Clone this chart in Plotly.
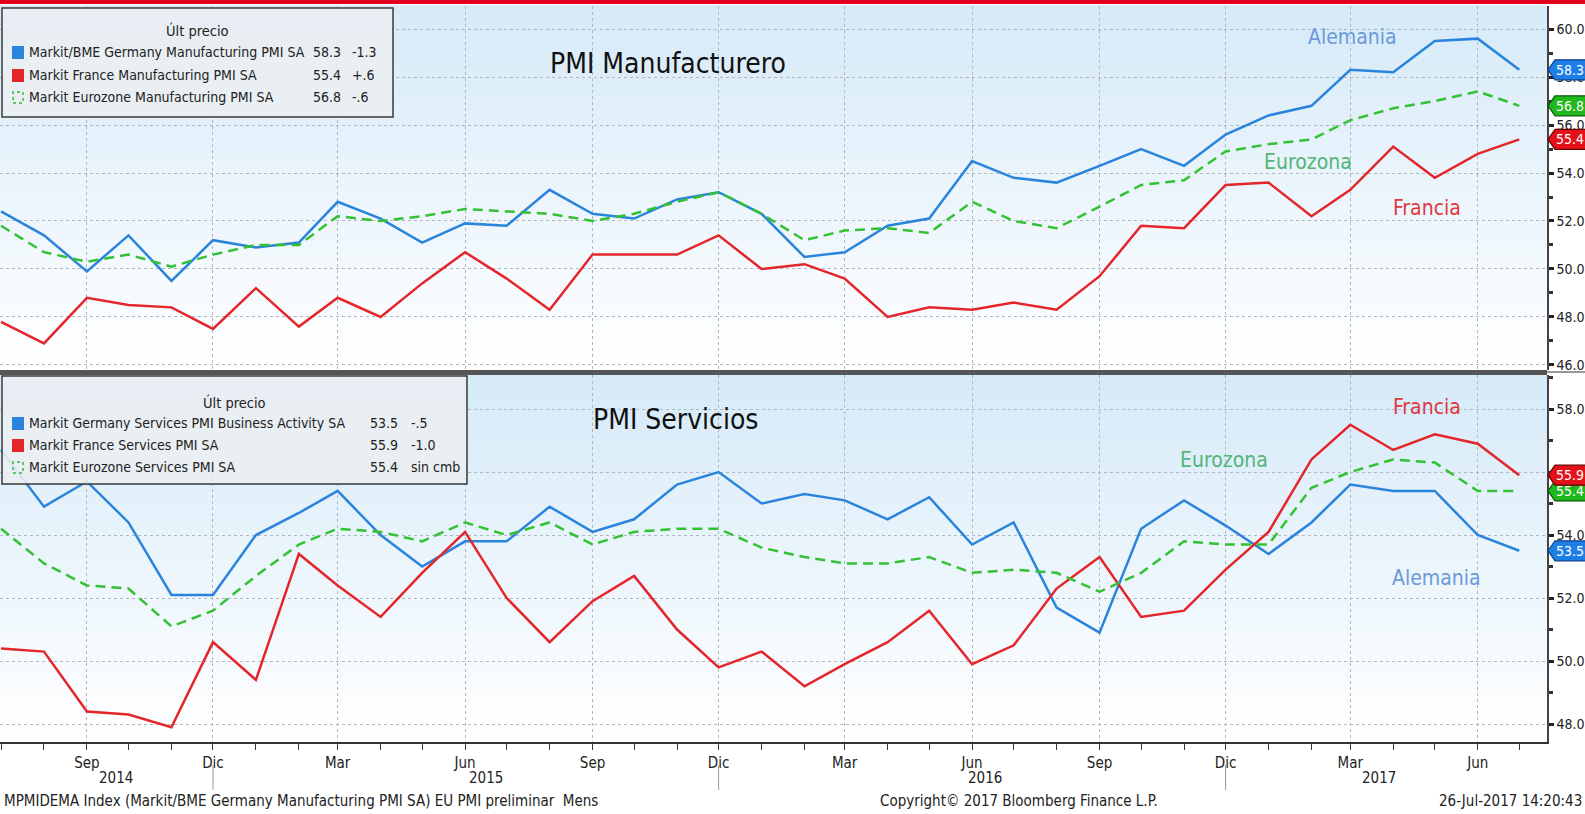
import plotly.graph_objects as go

# ---------------- data ----------------
months = ["2014-07-01", "2014-08-01", "2014-09-01", "2014-10-01", "2014-11-01", "2014-12-01",
          "2015-01-01", "2015-02-01", "2015-03-01", "2015-04-01", "2015-05-01", "2015-06-01",
          "2015-07-01", "2015-08-01", "2015-09-01", "2015-10-01", "2015-11-01", "2015-12-01",
          "2016-01-01", "2016-02-01", "2016-03-01", "2016-04-01", "2016-05-01", "2016-06-01",
          "2016-07-01", "2016-08-01", "2016-09-01", "2016-10-01", "2016-11-01", "2016-12-01",
          "2017-01-01", "2017-02-01", "2017-03-01", "2017-04-01", "2017-05-01", "2017-06-01",
          "2017-07-01"]

de_mfg = [52.4, 51.4, 49.9, 51.4, 49.5, 51.2, 50.9, 51.1, 52.8, 52.1, 51.1, 51.9,
          51.8, 53.3, 52.3, 52.1, 52.9, 53.2, 52.3, 50.5, 50.7, 51.8, 52.1, 54.5,
          53.8, 53.6, 54.3, 55.0, 54.3, 55.6, 56.4, 56.8, 58.3, 58.2, 59.5, 59.6, 58.3]
fr_mfg = [47.8, 46.9, 48.8, 48.5, 48.4, 47.5, 49.2, 47.6, 48.8, 48.0, 49.4, 50.7,
          49.6, 48.3, 50.6, 50.6, 50.6, 51.4, 50.0, 50.2, 49.6, 48.0, 48.4, 48.3,
          48.6, 48.3, 49.7, 51.8, 51.7, 53.5, 53.6, 52.2, 53.3, 55.1, 53.8, 54.8, 55.4]
ez_mfg = [51.8, 50.7, 50.3, 50.6, 50.1, 50.6, 51.0, 51.0, 52.2, 52.0, 52.2, 52.5,
          52.4, 52.3, 52.0, 52.3, 52.8, 53.2, 52.3, 51.2, 51.6, 51.7, 51.5, 52.8,
          52.0, 51.7, 52.6, 53.5, 53.7, 54.9, 55.2, 55.4, 56.2, 56.7, 57.0, 57.4, 56.8]

de_srv = [56.7, 54.9, 55.7, 54.4, 52.1, 52.1, 54.0, 54.7, 55.4, 54.0, 53.0, 53.8,
          53.8, 54.9, 54.1, 54.5, 55.6, 56.0, 55.0, 55.3, 55.1, 54.5, 55.2, 53.7,
          54.4, 51.7, 50.9, 54.2, 55.1, 54.3, 53.4, 54.4, 55.6, 55.4, 55.4, 54.0, 53.5]
fr_srv = [50.4, 50.3, 48.4, 48.3, 47.9, 50.6, 49.4, 53.4, 52.4, 51.4, 52.8, 54.1,
          52.0, 50.6, 51.9, 52.7, 51.0, 49.8, 50.3, 49.2, 49.9, 50.6, 51.6, 49.9,
          50.5, 52.3, 53.3, 51.4, 51.6, 52.9, 54.1, 56.4, 57.5, 56.7, 57.2, 56.9, 55.9]
ez_srv = [54.2, 53.1, 52.4, 52.3, 51.1, 51.6, 52.7, 53.7, 54.2, 54.1, 53.8, 54.4,
          54.0, 54.4, 53.7, 54.1, 54.2, 54.2, 53.6, 53.3, 53.1, 53.1, 53.3, 52.8,
          52.9, 52.8, 52.2, 52.8, 53.8, 53.7, 53.7, 55.5, 56.0, 56.4, 56.3, 55.4, 55.4]

tick_dates = ["2014-09-01", "2014-12-01", "2015-03-01", "2015-06-01", "2015-09-01", "2015-12-01",
              "2016-03-01", "2016-06-01", "2016-09-01", "2016-12-01", "2017-03-01", "2017-06-01"]
tick_text = ["Sep", "Dic", "Mar", "Jun", "Sep", "Dic", "Mar", "Jun", "Sep", "Dic", "Mar", "Jun"]
year_labels = ["2014", "2015", "2016", "2017"]
year_pos = ["2014-09-22", "2015-06-16", "2016-06-10", "2017-03-22"]
year_seps = ["2014-12-01", "2015-12-01", "2016-12-01"]

mfg_ticks = [46, 48, 50, 52, 54, 56, 58, 60]
srv_ticks = [48, 50, 52, 54, 56, 58]

mfg_names = ["Markit/BME Germany Manufacturing PMI SA", "Markit France Manufacturing PMI SA",
             "Markit Eurozone Manufacturing PMI SA"]
mfg_last = ["58.3", "55.4", "56.8"]
mfg_chg = ["-1.3", "+.6", "-.6"]
srv_names = ["Markit Germany Services PMI Business Activity SA", "Markit France Services PMI SA",
             "Markit Eurozone Services PMI SA"]
srv_last = ["53.5", "55.9", "55.4"]
srv_chg = ["-.5", "-1.0", "sin cmb"]

# ---------------- style / layout helpers ----------------
W, H = 1585, 814
ML, MR, MT, MB = 0, 38, 6, 72
PW, PH = W - ML - MR, H - MT - MB
FONT = "Liberation Sans Narrow, Arial Narrow, DejaVu Sans Condensed, Roboto Condensed, sans-serif"

BLUE, RED, GREEN = "#2b84dc", "#e4262b", "#33c233"


def px(x):
    return (x - ML) / PW


def py(y):
    return (H - MB - y) / PH


fig = go.Figure()

# top panel traces (x2/y2)
fig.add_trace(go.Scatter(x=months, y=de_mfg, mode="lines", line=dict(color=BLUE, width=2.5),
                         xaxis="x2", yaxis="y2", showlegend=False, hoverinfo="skip"))
fig.add_trace(go.Scatter(x=months, y=fr_mfg, mode="lines", line=dict(color=RED, width=2.5),
                         xaxis="x2", yaxis="y2", showlegend=False, hoverinfo="skip"))
fig.add_trace(go.Scatter(x=months, y=ez_mfg, mode="lines",
                         line=dict(color=GREEN, width=2.5, dash="10px,6px"),
                         xaxis="x2", yaxis="y2", showlegend=False, hoverinfo="skip"))
# bottom panel traces
fig.add_trace(go.Scatter(x=months, y=de_srv, mode="lines", line=dict(color=BLUE, width=2.5),
                         showlegend=False, hoverinfo="skip"))
fig.add_trace(go.Scatter(x=months, y=fr_srv, mode="lines", line=dict(color=RED, width=2.5),
                         showlegend=False, hoverinfo="skip"))
fig.add_trace(go.Scatter(x=months, y=ez_srv, mode="lines",
                         line=dict(color=GREEN, width=2.5, dash="10px,6px"),
                         showlegend=False, hoverinfo="skip"))

shapes = []
annotations = []

# gradient backgrounds
N = 40
c0 = (214, 234, 248)
c1 = (255, 255, 255)
for xr, yr in (("x domain", "y domain"), ("x2 domain", "y2 domain")):
    for i in range(N):
        t = i / (N - 1)
        col = tuple(int(round(c0[k] + (c1[k] - c0[k]) * t)) for k in range(3))
        shapes.append(dict(type="rect", xref=xr, yref=yr, x0=0, x1=1,
                           y0=1 - (i + 1) / N, y1=1 - i / N + 0.002,
                           fillcolor="rgb(%d,%d,%d)" % col, line=dict(width=0), layer="below"))

# red band top
shapes.append(dict(type="rect", xref="paper", yref="paper", x0=px(0), x1=px(W),
                   y0=py(4), y1=py(0), fillcolor="#e1001e", line=dict(width=0)))
# separator between panels
shapes.append(dict(type="rect", xref="paper", yref="paper", x0=px(0), x1=px(1547),
                   y0=py(375), y1=py(370), fillcolor="#555555", line=dict(width=0)))
shapes.append(dict(type="line", xref="paper", yref="paper", x0=px(1547), x1=px(W),
                   y0=py(372), y1=py(372), line=dict(color="#777777", width=1.5)))

# year separators under x axis
for d in year_seps:
    shapes.append(dict(type="line", xref="x", yref="paper", x0=d, x1=d,
                       y0=py(765), y1=py(790), line=dict(color="#999999", width=1)))

LEG_SIZE = 14


def legend_box(x0, y0, x1, y1, title_x, title_y, rows, names, lasts, chgs, val_x, chg_x):
    shapes.append(dict(type="rect", xref="paper", yref="paper", x0=px(x0), x1=px(x1),
                       y0=py(y1), y1=py(y0), fillcolor="rgba(234,238,242,0.9)",
                       line=dict(color="#3a3a3a", width=1.5)))
    annotations.append(dict(xref="paper", yref="paper", x=px(title_x), y=py(title_y),
                            text="Últ precio", showarrow=False, xanchor="center", yanchor="middle",
                            font=dict(family=FONT, size=LEG_SIZE + 0.5, color="#222222")))
    cols = [BLUE, RED, None]
    for r, name, last, chg, col in zip(rows, names, lasts, chgs, cols):
        if col:
            shapes.append(dict(type="rect", xref="paper", yref="paper", x0=px(12), x1=px(24),
                               y0=py(r + 7), y1=py(r - 6), fillcolor=col, line=dict(width=0)))
        else:
            shapes.append(dict(type="rect", xref="paper", yref="paper", x0=px(13), x1=px(23),
                               y0=py(r + 6), y1=py(r - 5), fillcolor="rgba(0,0,0,0)",
                               line=dict(color="#3cb83c", width=1.5, dash="dot")))
        annotations.append(dict(xref="paper", yref="paper", x=px(27), y=py(r), text=name,
                                showarrow=False, xanchor="left", yanchor="middle",
                                font=dict(family=FONT, size=LEG_SIZE, color="#222222")))
        annotations.append(dict(xref="paper", yref="paper", x=px(val_x), y=py(r), text=last,
                                showarrow=False, xanchor="right", yanchor="middle",
                                font=dict(family=FONT, size=LEG_SIZE, color="#222222")))
        annotations.append(dict(xref="paper", yref="paper", x=px(chg_x), y=py(r), text=chg,
                                showarrow=False, xanchor="left", yanchor="middle",
                                font=dict(family=FONT, size=LEG_SIZE, color="#222222")))


legend_box(2, 8, 393, 117, 198, 31, [52, 75, 97], mfg_names, mfg_last, mfg_chg, 343, 350)
legend_box(2, 376, 467, 484, 235, 402, [423, 445, 467], srv_names, srv_last, srv_chg, 400, 409)

# panel titles
annotations.append(dict(xref="paper", yref="paper", x=px(548), y=py(63), text="PMI Manufacturero",
                        showarrow=False, xanchor="left", yanchor="middle",
                        font=dict(family=FONT, size=28, color="#111111")))
annotations.append(dict(xref="paper", yref="paper", x=px(591), y=py(419), text="PMI Servicios",
                        showarrow=False, xanchor="left", yanchor="middle",
                        font=dict(family=FONT, size=28, color="#111111")))

# series labels
LBL_BLUE, LBL_RED, LBL_GREEN = "#6b9ad8", "#e0393e", "#55b478"
for txt, x, y, c in [("Alemania", 1352, 37, LBL_BLUE), ("Eurozona", 1308, 162, LBL_GREEN),
                     ("Francia", 1427, 208, LBL_RED), ("Francia", 1427, 407, LBL_RED),
                     ("Eurozona", 1224, 460, LBL_GREEN), ("Alemania", 1436, 578, LBL_BLUE)]:
    annotations.append(dict(xref="paper", yref="paper", x=px(x), y=py(y), text=txt,
                            showarrow=False, xanchor="center", yanchor="middle",
                            font=dict(family=FONT, size=21, color=c)))

# year labels
for lab, pos in zip(year_labels, year_pos):
    annotations.append(dict(xref="x", yref="paper", x=pos, y=py(778), text=lab,
                            showarrow=False, xanchor="center", yanchor="middle",
                            font=dict(family=FONT, size=15, color="#222222")))

# footer
annotations.append(dict(xref="paper", yref="paper", x=px(2), y=py(801),
                        text="MPMIDEMA Index (Markit/BME Germany Manufacturing PMI SA) EU PMI preliminar\u00a0 Mens",
                        showarrow=False, xanchor="left", yanchor="middle",
                        font=dict(family=FONT, size=15, color="#222222")))
annotations.append(dict(xref="paper", yref="paper", x=px(878), y=py(801),
                        text="Copyright\u00a9 2017 Bloomberg Finance L.P.",
                        showarrow=False, xanchor="left", yanchor="middle",
                        font=dict(family=FONT, size=15, color="#222222")))
annotations.append(dict(xref="paper", yref="paper", x=px(1584), y=py(801),
                        text="26-Jul-2017 14:20:43",
                        showarrow=False, xanchor="right", yanchor="middle",
                        font=dict(family=FONT, size=15, color="#222222")))


# last value tags
def tag(yref, val, fill, border):
    shapes.append(dict(type="path", xref="paper", yref=yref, xsizemode="pixel", ysizemode="pixel",
                       xanchor=1, yanchor=val, path="M1,0 L8,10 L46,10 L46,-10 L8,-10 Z",
                       fillcolor=fill, line=dict(color=border, width=1.2), layer="above"))
    annotations.append(dict(xref="paper", yref=yref, x=1, y=val, xshift=7, text="%.1f" % val,
                            showarrow=False, xanchor="left", yanchor="middle",
                            font=dict(family=FONT, size=14, color="#ffffff")))


TAG_BLUE, TAG_GREEN, TAG_RED = ("#1d7fe6", "#0b3f8f"), ("#1fb81f", "#0a5a0a"), ("#e3121a", "#6b0000")
tag("y2", de_mfg[-1], *TAG_BLUE)
tag("y2", ez_mfg[-1], *TAG_GREEN)
tag("y2", fr_mfg[-1], *TAG_RED)
tag("y", ez_srv[-1], *TAG_GREEN)
tag("y", fr_srv[-1], *TAG_RED)
tag("y", de_srv[-1], *TAG_BLUE)

x_range = ["2014-06-30 06:00", "2017-07-21"]
GRID = "#aeb8c2"

yaxis_common = dict(side="right", showline=True, linecolor="#444444", linewidth=1.5,
                    showgrid=True, gridcolor=GRID, griddash="dot", gridwidth=1,
                    ticks="outside", ticklen=5, tickwidth=2.5, tickcolor="#222222",
                    ticklabelstandoff=0,
                    zeroline=False, automargin=False,
                    tickfont=dict(family=FONT, size=14, color="#222222"),
                    minor=dict(dtick=1, ticks="outside", ticklen=4, tickcolor="#333333",
                               showgrid=False))

fig.update_layout(
    width=W, height=H,
    margin=dict(l=ML, r=MR, t=MT, b=MB),
    paper_bgcolor="#ffffff", plot_bgcolor="rgba(0,0,0,0)",
    showlegend=False,
    xaxis=dict(type="date", range=x_range, domain=[0, 1], anchor="y",
               tickmode="array", tickvals=tick_dates, ticktext=tick_text,
               ticks="outside", ticklen=6, tickcolor="#333333",
               showline=True, linecolor="#333333", linewidth=1.5,
               showgrid=True, gridcolor=GRID, griddash="dot", gridwidth=1,
               tickfont=dict(family=FONT, size=15, color="#222222"),
               minor=dict(tick0="2014-07-01", dtick="M1", ticks="outside", ticklen=6,
                          tickcolor="#333333", showgrid=False),
               automargin=False),
    xaxis2=dict(type="date", range=x_range, domain=[0, 1], anchor="y2", matches="x",
                tickmode="array", tickvals=tick_dates, showticklabels=False, ticks="",
                showline=False, showgrid=True, gridcolor=GRID, griddash="dot", gridwidth=1),
    yaxis=dict(domain=[0, py(375)], range=[47.43, 59.08], anchor="x",
               tickmode="array", tickvals=srv_ticks,
               ticktext=["%.1f" % v for v in srv_ticks], **yaxis_common),
    yaxis2=dict(domain=[py(370), 1], range=[45.79, 60.96], anchor="x2",
                tickmode="array", tickvals=mfg_ticks,
                ticktext=["%.1f" % v for v in mfg_ticks], **yaxis_common),
    shapes=shapes,
    annotations=annotations,
)

fig.write_html("out.html", config={"displayModeBar": False},
               post_script="document.body.style.margin='0';document.body.style.overflow='hidden';")
